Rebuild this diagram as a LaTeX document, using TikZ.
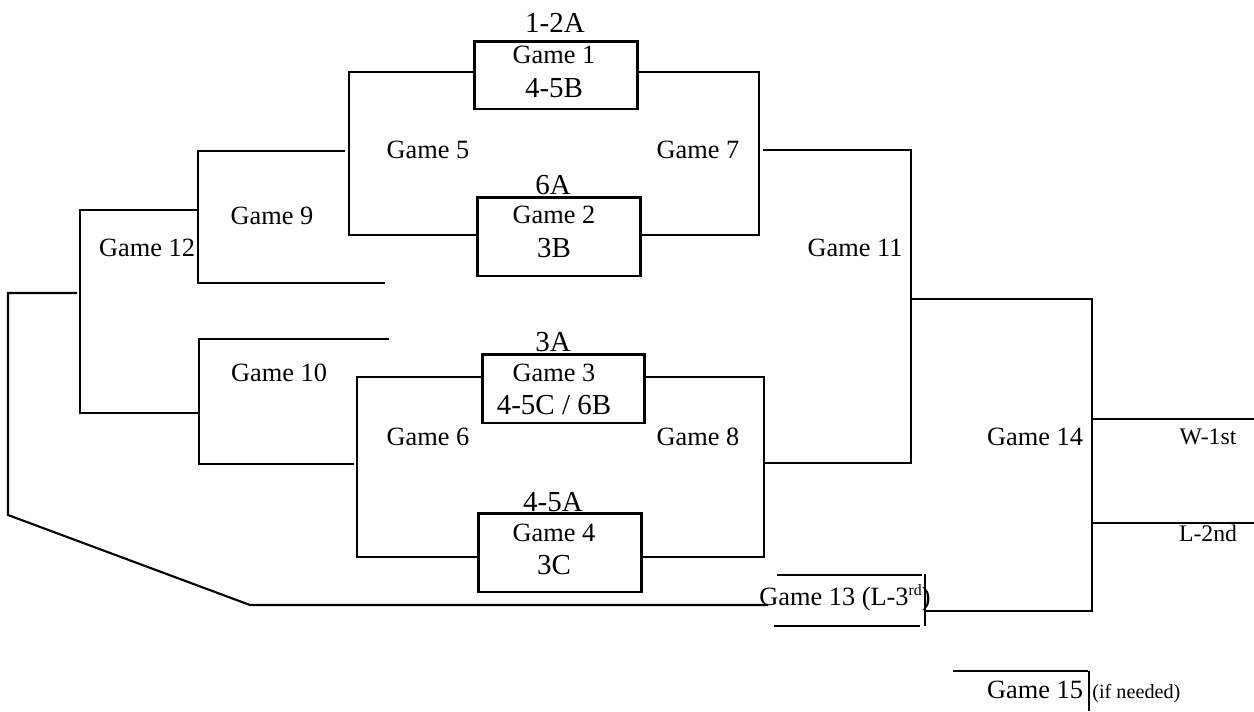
\documentclass[tikz,border=0pt]{standalone}
\usepackage{fontspec}
\setmainfont{Liberation Serif}
\begin{document}
\begin{tikzpicture}[x=0.02cm,y=-0.02cm,
  line/.style={line width=1.2pt},
  thick line/.style={line width=1.6pt},
  gamebox/.style={draw,line width=1.7pt,inner sep=0pt,minimum width=3.28cm},
  lbl/.style={font=\fontsize{15}{18}\selectfont,inner sep=0pt},
  seed/.style={font=\fontsize{16.5}{19}\selectfont,inner sep=0pt},
  place/.style={font=\fontsize{13.5}{16}\selectfont,inner sep=0pt},
  note/.style={font=\fontsize{11.5}{14}\selectfont,inner sep=0pt}]
\useasboundingbox (0,0) rectangle (1254,711);

% boxes
\node[gamebox,minimum height=1.36cm] (g1) at (556,75) {};
\node[gamebox,minimum height=1.58cm] (g2) at (559,236.5) {};
\node[gamebox,minimum height=1.38cm,minimum width=3.26cm] (g3) at (563.5,388.5) {};
\node[gamebox,minimum height=1.58cm] (g4) at (560,552.5) {};

% box texts
\node[lbl] (t1) at (554,55) {Game 1};
\node[seed] (s1) at (554,88) {4-5B};
\node[lbl] (t2) at (554,215) {Game 2};
\node[seed] (s2) at (554,248) {3B};
\node[lbl] (t3) at (554,373) {Game 3};
\node[seed] (s3) at (554,405) {4-5C / 6B};
\node[lbl] (t4) at (554,533) {Game 4};
\node[seed] (s4) at (554,565) {3C};

% seeds above boxes
\node[seed] (a1) at (555,23) {1-2A};
\node[seed] (a2) at (553,185) {6A};
\node[seed] (a3) at (553,342) {3A};
\node[seed] (a4) at (553,502) {4-5A};

% round labels
\node[lbl] (l5) at (428,150) {Game 5};
\node[lbl] (l7) at (698,150) {Game 7};
\node[lbl] (l6) at (428,437) {Game 6};
\node[lbl] (l8) at (698,437) {Game 8};
\node[lbl] (l9) at (272,216) {Game 9};
\node[lbl] (l12) at (147,248) {Game 12};
\node[lbl] (l10) at (279,373) {Game 10};
\node[lbl] (l11) at (855,248) {Game 11};
\node[lbl] (l14) at (1035,437) {Game 14};
\node[place] (w1) at (1208,437) {W-1st};
\node[place] (l2) at (1208,533) {L-2nd};
\node[lbl,anchor=base west] (l13) at (759,605) {Game 13 (L-3\raisebox{0.75ex}{\fontsize{9}{10}\selectfont rd})};
\node[lbl,anchor=base] (l15) at (1035,698) {Game 15};
\node[note,anchor=base west] (n15) at (1092,698) {(if needed)};

% coordinates
\coordinate (c5t) at (349,72);  \coordinate (c5b) at (349,235);
\coordinate (c7t) at (759,72);  \coordinate (c7b) at (759,235);
\coordinate (c6t) at (357,377); \coordinate (c6b) at (357,557);
\coordinate (c8t) at (764,377); \coordinate (c8b) at (764,557);
\coordinate (c9a) at (345,151); \coordinate (c9t) at (198,151);
\coordinate (c9b) at (198,283); \coordinate (c9e) at (385,283);
\coordinate (c10a) at (389,339); \coordinate (c10t) at (199,339);
\coordinate (c10b) at (199,464); \coordinate (c10e) at (354,464);
\coordinate (c12a) at (198,210); \coordinate (c12t) at (80,210);
\coordinate (c12b) at (80,413);  \coordinate (c12e) at (199,413);
\coordinate (cLa) at (77,293); \coordinate (cLt) at (8,293);
\coordinate (cLb) at (8,515); \coordinate (cLs) at (250,605);
\coordinate (cLe) at (768,605);
\coordinate (c11a) at (763,150); \coordinate (c11t) at (911,150);
\coordinate (c11b) at (911,463); \coordinate (c11e) at (763,463);
\coordinate (c11m) at (911,299);
\coordinate (c14t) at (1092,299); \coordinate (c14b) at (1092,611);
\coordinate (c14w) at (1092,419); \coordinate (cW) at (1254,419);
\coordinate (c14l) at (1092,523); \coordinate (cL) at (1254,523);
\coordinate (c13e) at (925,611);
\coordinate (c13bt) at (925,574); \coordinate (c13bb) at (925,626);
\coordinate (c13ta) at (777,575); \coordinate (c13tb) at (922,575);
\coordinate (c13ua) at (774,626); \coordinate (c13ub) at (920,626);
\coordinate (c15a) at (953,671); \coordinate (c15b) at (1088,671);
\coordinate (c15t) at (1089,671); \coordinate (c15d) at (1089,711);

% connectors
\draw[line] (g1.west |- c5t) -- (c5t) -- (c5b) -- (g2.west |- c5b);
\draw[line] (g1.east |- c7t) -- (c7t) -- (c7b) -- (g2.east |- c7b);
\draw[line] (g3.west |- c6t) -- (c6t) -- (c6b) -- (g4.west |- c6b);
\draw[line] (g3.east |- c8t) -- (c8t) -- (c8b) -- (g4.east |- c8b);
\draw[line] (c9a) -- (c9t) -- (c9b) -- (c9e);
\draw[line] (c10a) -- (c10t) -- (c10b) -- (c10e);
\draw[line] (c12a) -- (c12t) -- (c12b) -- (c12e);
\draw[line] (cLa) -- (cLt) -- (cLb) -- (cLs) -- (cLe);
\draw[line] (c11a) -- (c11t) -- (c11b) -- (c11e);
\draw[line] (c11m) -- (c14t) -- (c14b) -- (c13e);
\draw[line] (c14w) -- (cW);
\draw[line] (c14l) -- (cL);
\draw[line] (c13bt) -- (c13bb);
\draw[thick line] (c13ta) -- (c13tb);
\draw[thick line] (c13ua) -- (c13ub);
\draw[line] (c15a) -- (c15b);
\draw[line] (c15t) -- (c15d);
\end{tikzpicture}
\end{document}
